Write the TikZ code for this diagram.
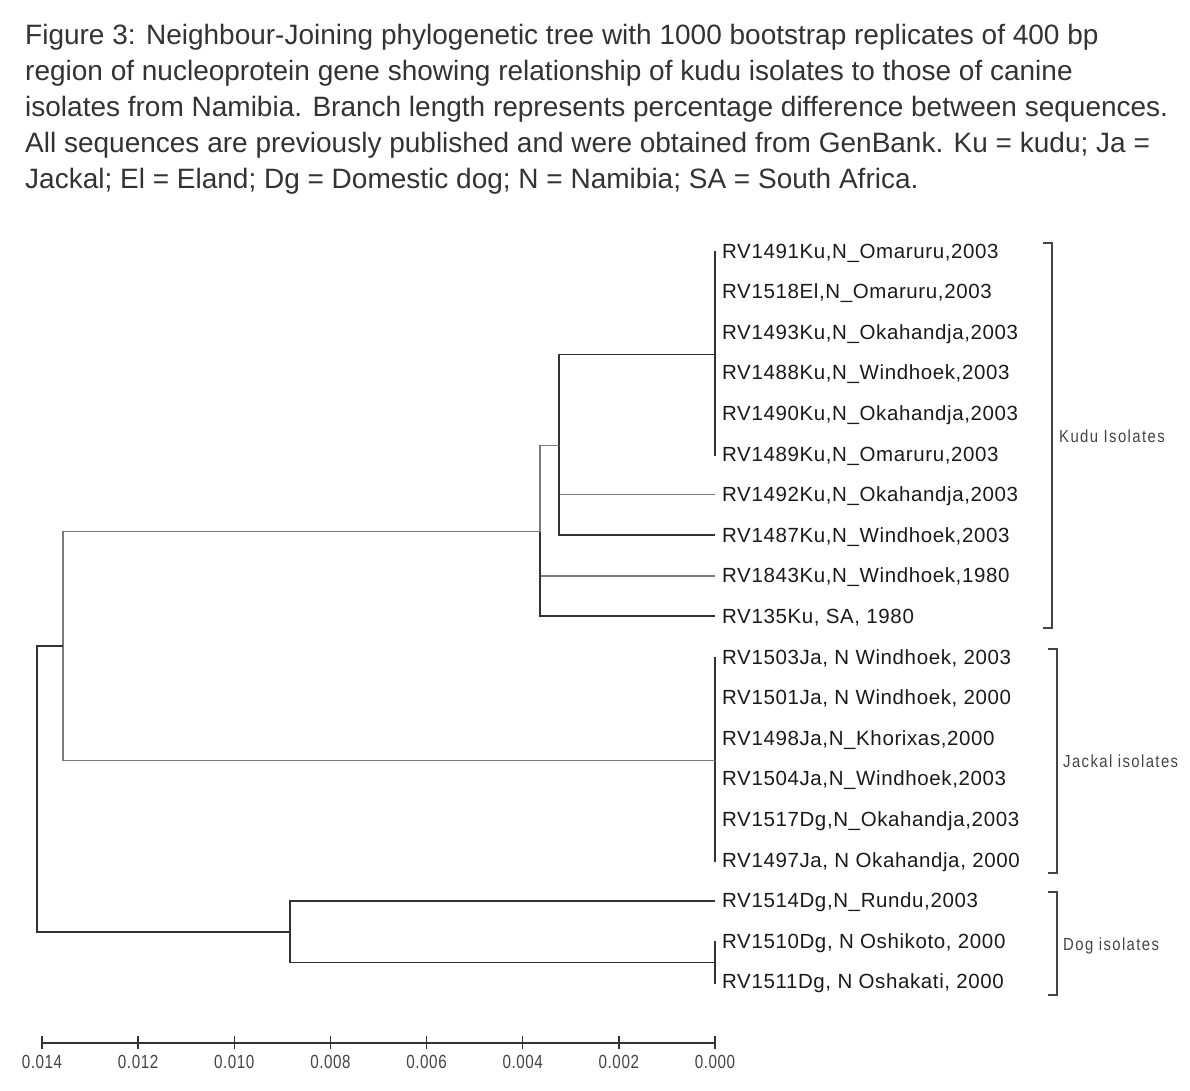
\documentclass[tikz,border=0pt]{standalone}
\usepackage{fontspec}
\setmainfont{Liberation Sans}
\newfontfamily\leaffont[LetterSpace=3]{Liberation Sans}
\newfontfamily\narrowfont[FakeStretch=0.85,LetterSpace=8]{Liberation Sans}
\newfontfamily\ticksfont[FakeStretch=0.8,LetterSpace=3]{Liberation Sans}
\definecolor{captxt}{HTML}{333333}
\definecolor{leaftxt}{HTML}{1A1A1A}
\definecolor{dkline}{HTML}{333333}
\definecolor{ltline}{HTML}{7A7A7A}
\definecolor{grtxt}{HTML}{444444}
\begin{document}
\begin{tikzpicture}[x=1pt,y=-1pt,
  capline/.style={anchor=base west,inner sep=0pt,text=captxt,font=\fontsize{28}{34}\selectfont},
  leaf/.style={anchor=base west,inner sep=0pt,text=leaftxt,font=\leaffont\fontsize{20.5}{24}\selectfont},
  grp/.style={anchor=base west,inner sep=0pt,text=grtxt,font=\narrowfont\fontsize{17.5}{20}\selectfont},
  ticklab/.style={anchor=base,inner sep=0pt,text=grtxt,font=\ticksfont\fontsize{19}{20}\selectfont},
  br/.style={draw=dkline,line width=1.9pt},
  brl/.style={draw=ltline,line width=1.6pt},
  brk/.style={draw=grtxt,line width=1.5pt},
  axisline/.style={draw=dkline,line width=1.8pt}]
\useasboundingbox (0,0) rectangle (1190,1090);
% caption
\node[capline] (c1) at (25,44) {Figure 3: Neighbour-Joining phylogenetic tree with 1000 bootstrap replicates of 400 bp};
\node[capline] (c2) at (25,80) {region of nucleoprotein gene showing relationship of kudu isolates to those of canine};
\node[capline] (c3) at (25,116) {isolates from Namibia. Branch length represents percentage difference between sequences.};
\node[capline] (c4) at (25,152) {All sequences are previously published and were obtained from GenBank. Ku = kudu; Ja =};
\node[capline] (c5) at (25,188) {Jackal; El = Eland; Dg = Domestic dog; N = Namibia; SA = South Africa.};
% leaf labels
\node[leaf] (l1) at (722,258.0) {RV1491Ku,N\_Omaruru,2003};
\node[leaf] (l2) at (722,298.6) {RV1518El,N\_Omaruru,2003};
\node[leaf] (l3) at (722,339.2) {RV1493Ku,N\_Okahandja,2003};
\node[leaf] (l4) at (722,379.8) {RV1488Ku,N\_Windhoek,2003};
\node[leaf] (l5) at (722,420.4) {RV1490Ku,N\_Okahandja,2003};
\node[leaf] (l6) at (722,461.0) {RV1489Ku,N\_Omaruru,2003};
\node[leaf] (l7) at (722,501.6) {RV1492Ku,N\_Okahandja,2003};
\node[leaf] (l8) at (722,542.2) {RV1487Ku,N\_Windhoek,2003};
\node[leaf] (l9) at (722,582.8) {RV1843Ku,N\_Windhoek,1980};
\node[leaf] (l10) at (722,623.4) {RV135Ku, SA, 1980};
\node[leaf] (l11) at (722,664.0) {RV1503Ja, N Windhoek, 2003};
\node[leaf] (l12) at (722,704.6) {RV1501Ja, N Windhoek, 2000};
\node[leaf] (l13) at (722,745.2) {RV1498Ja,N\_Khorixas,2000};
\node[leaf] (l14) at (722,785.8) {RV1504Ja,N\_Windhoek,2003};
\node[leaf] (l15) at (722,826.4) {RV1517Dg,N\_Okahandja,2003};
\node[leaf] (l16) at (722,867.0) {RV1497Ja, N Okahandja, 2000};
\node[leaf] (l17) at (722,907.6) {RV1514Dg,N\_Rundu,2003};
\node[leaf] (l18) at (722,948.2) {RV1510Dg, N Oshikoto, 2000};
\node[leaf] (l19) at (722,988.8) {RV1511Dg, N Oshakati, 2000};
% leaf tips
\coordinate (t1) at (715,251.0);
\coordinate (t6) at (715,456.0);
\coordinate (t7) at (715,494.6);
\coordinate (t8) at (715,535.2);
\coordinate (t9) at (715,575.8);
\coordinate (t10) at (715,616.4);
\coordinate (t11) at (715,657.0);
\coordinate (t16) at (715,862.0);
\coordinate (t17) at (715,900.6);
\coordinate (t18) at (715,941.2);
\coordinate (t19) at (715,983.8);
% cluster points and internal nodes
\coordinate (K0) at (715,354.5);
\coordinate (J0) at (715,760.5);
\coordinate (D0) at (715,962.5);
\coordinate (A) at (559,445.5);
\coordinate (B) at (540,531.5);
\coordinate (C) at (63,646.0);
\coordinate (D) at (290,932.0);
\coordinate (R) at (37,789.0);
% zero-length clusters
\draw[br] (t1) -- (t6);
\draw[br] (t11) -- (t16);
\draw[br] (t18) -- (t19);
% branches
\draw[br] (A) |- (K0);
\draw[brl] (A) |- (t7);
\draw[br] (A) |- (t8);
\draw[brl] (B) |- (A);
\draw[brl] (B) |- (t9);
\draw[br] (B) |- (t10);
\draw[brl] (C) |- (B);
\draw[brl] (C) |- (J0);
\draw[br] (D) |- (t17);
\draw[br] (D) |- (D0);
\draw[br] (R) |- (C);
\draw[br] (R) |- (D);
% brackets
\coordinate (ka) at (1043,243);
\coordinate (kb) at (1043,628);
\draw[brk] (ka) -| (1052,628) -- (kb);
\coordinate (ja) at (1048,649);
\coordinate (jb) at (1048,873);
\draw[brk] (ja) -| (1057,873) -- (jb);
\coordinate (da) at (1048,892);
\coordinate (db) at (1048,995);
\draw[brk] (da) -| (1057,995) -- (db);
\node[grp] (gk) at (1059,442) {Kudu Isolates};
\node[grp] (gj) at (1063,767) {Jackal isolates};
\node[grp] (gd) at (1063,950) {Dog isolates};
% scale axis
\coordinate (a0) at (42,1043);
\coordinate (a7) at (715,1043);
\draw[axisline] (a0) -- (a7);
\foreach \k/\lab in {0/0.014,1/0.012,2/0.010,3/0.008,4/0.006,5/0.004,6/0.002,7/0.000}{
  \draw[axisline,line width=1.5pt] ({42+96.14*\k},1036) -- ({42+96.14*\k},1049);
  \node[ticklab] (tl\k) at ({42+96.14*\k},1068) {\lab};
}
\end{tikzpicture}
\end{document}
